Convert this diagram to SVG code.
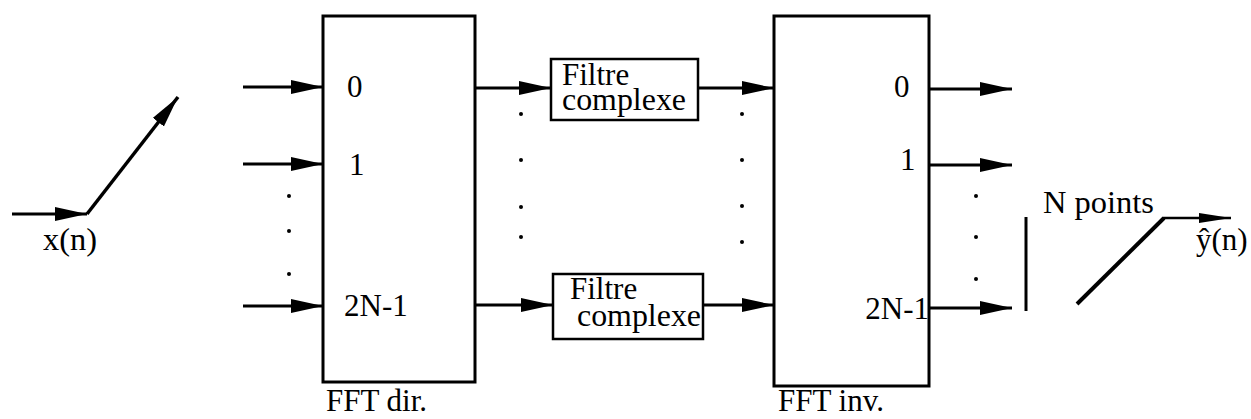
<svg xmlns="http://www.w3.org/2000/svg" width="1251" height="419" viewBox="0 0 1251 419">
  <style>
    text { font-family: "Liberation Serif", "Times New Roman", serif; font-size: 31px; fill: #000; }
    .box { fill: none; stroke: #000; stroke-width: 3; }
    .fbox { fill: #fff; stroke: #000; stroke-width: 2.5; }
    .wire { fill: none; stroke: #000; stroke-width: 3; }
    .dot { fill: #000; }
  </style>
  <defs>
    <marker id="head" markerUnits="userSpaceOnUse" markerWidth="34" markerHeight="16" refX="32" refY="7" orient="auto">
      <path d="M0,0 L32,7 L0,14 Z" fill="#000"/>
    </marker>
    <marker id="headThin" markerUnits="userSpaceOnUse" markerWidth="34" markerHeight="12" refX="32" refY="5" orient="auto">
      <path d="M0,0 L32,5 L0,10 Z" fill="#000"/>
    </marker>
  </defs>

  <rect width="1251" height="419" fill="#fff"/>

  <!-- serial input -->
  <g id="input">
    <text x="43" y="250" textLength="54" lengthAdjust="spacingAndGlyphs">x(n)</text>
  </g>

  <!-- forward transform block -->
  <g id="fft-dir">
    <rect class="box" x="323" y="16" width="152" height="366"/>
    <text x="347" y="97">0</text>
    <text x="349" y="175">1</text>
    <text x="344" y="316">2N-1</text>
    <text x="326" y="411">FFT dir.</text>
  </g>

  <!-- complex filters -->
  <g id="filtre-0">
    <rect class="fbox" x="551" y="59" width="147" height="61"/>
    <text x="562" y="85">Filtre</text>
    <text x="562" y="110" textLength="124" lengthAdjust="spacingAndGlyphs">complexe</text>
  </g>
  <g id="filtre-2n-1">
    <rect class="fbox" x="553" y="274" width="150" height="65"/>
    <text x="570" y="299">Filtre</text>
    <text x="577" y="326" textLength="124" lengthAdjust="spacingAndGlyphs">complexe</text>
  </g>

  <!-- inverse transform block -->
  <g id="fft-inv">
    <rect class="box" x="774" y="16" width="155" height="370"/>
    <text x="894" y="97">0</text>
    <text x="900" y="170">1</text>
    <text x="929" y="319" text-anchor="end">2N-1</text>
    <text x="778" y="411">FFT inv.</text>
  </g>

  <!-- serial output -->
  <g id="output">
    <line x1="1026" y1="217" x2="1026" y2="311" stroke="#000" stroke-width="3"/>
    <text x="1043" y="213" textLength="111" lengthAdjust="spacingAndGlyphs">N points</text>
    <text x="1196" y="250">ŷ(n)</text>
  </g>

  <g id="connectors">
    <!-- input switch -->
    <line class="wire" x1="12" y1="214" x2="87" y2="214" marker-end="url(#head)"/>
    <line x1="87" y1="214" x2="178" y2="97" stroke="#000" stroke-width="3.5" marker-end="url(#head)"/>

    <!-- inputs to FFT dir. -->
    <line class="wire" x1="243" y1="87" x2="323" y2="87" marker-end="url(#head)"/>
    <line class="wire" x1="243" y1="164" x2="323" y2="164" marker-end="url(#head)"/>
    <line class="wire" x1="243" y1="306" x2="323" y2="306" marker-end="url(#head)"/>

    <!-- FFT dir. to filters -->
    <line class="wire" x1="475" y1="88" x2="551" y2="88" marker-end="url(#head)"/>
    <line class="wire" x1="475" y1="305" x2="553" y2="305" marker-end="url(#head)"/>

    <!-- filters to FFT inv. -->
    <line class="wire" x1="698" y1="88" x2="774" y2="88" marker-end="url(#head)"/>
    <line class="wire" x1="703" y1="305" x2="774" y2="305" marker-end="url(#head)"/>

    <!-- FFT inv. outputs -->
    <line class="wire" x1="929" y1="89" x2="1012" y2="89" marker-end="url(#head)"/>
    <line class="wire" x1="929" y1="165" x2="1012" y2="165" marker-end="url(#head)"/>
    <line class="wire" x1="929" y1="308" x2="1012" y2="308" marker-end="url(#head)"/>

    <!-- output switch -->
    <line x1="1077" y1="304" x2="1164" y2="218" stroke="#000" stroke-width="4"/>
    <line x1="1163" y1="218" x2="1231" y2="218" stroke="#000" stroke-width="2.5" marker-end="url(#headThin)"/>
  </g>

  <!-- ellipsis dots between channels -->
  <g id="dots">
    <circle class="dot" cx="289" cy="196" r="2"/>
    <circle class="dot" cx="289" cy="231" r="2"/>
    <circle class="dot" cx="289" cy="274" r="2"/>
    <circle class="dot" cx="521" cy="114" r="2"/>
    <circle class="dot" cx="521" cy="160" r="2"/>
    <circle class="dot" cx="521" cy="207" r="2"/>
    <circle class="dot" cx="521" cy="237" r="2"/>
    <circle class="dot" cx="742" cy="114" r="2"/>
    <circle class="dot" cx="742" cy="160" r="2"/>
    <circle class="dot" cx="742" cy="206" r="2"/>
    <circle class="dot" cx="742" cy="242" r="2"/>
    <circle class="dot" cx="976" cy="196" r="2"/>
    <circle class="dot" cx="976" cy="237" r="2"/>
    <circle class="dot" cx="976" cy="279" r="2"/>
  </g>
</svg>
